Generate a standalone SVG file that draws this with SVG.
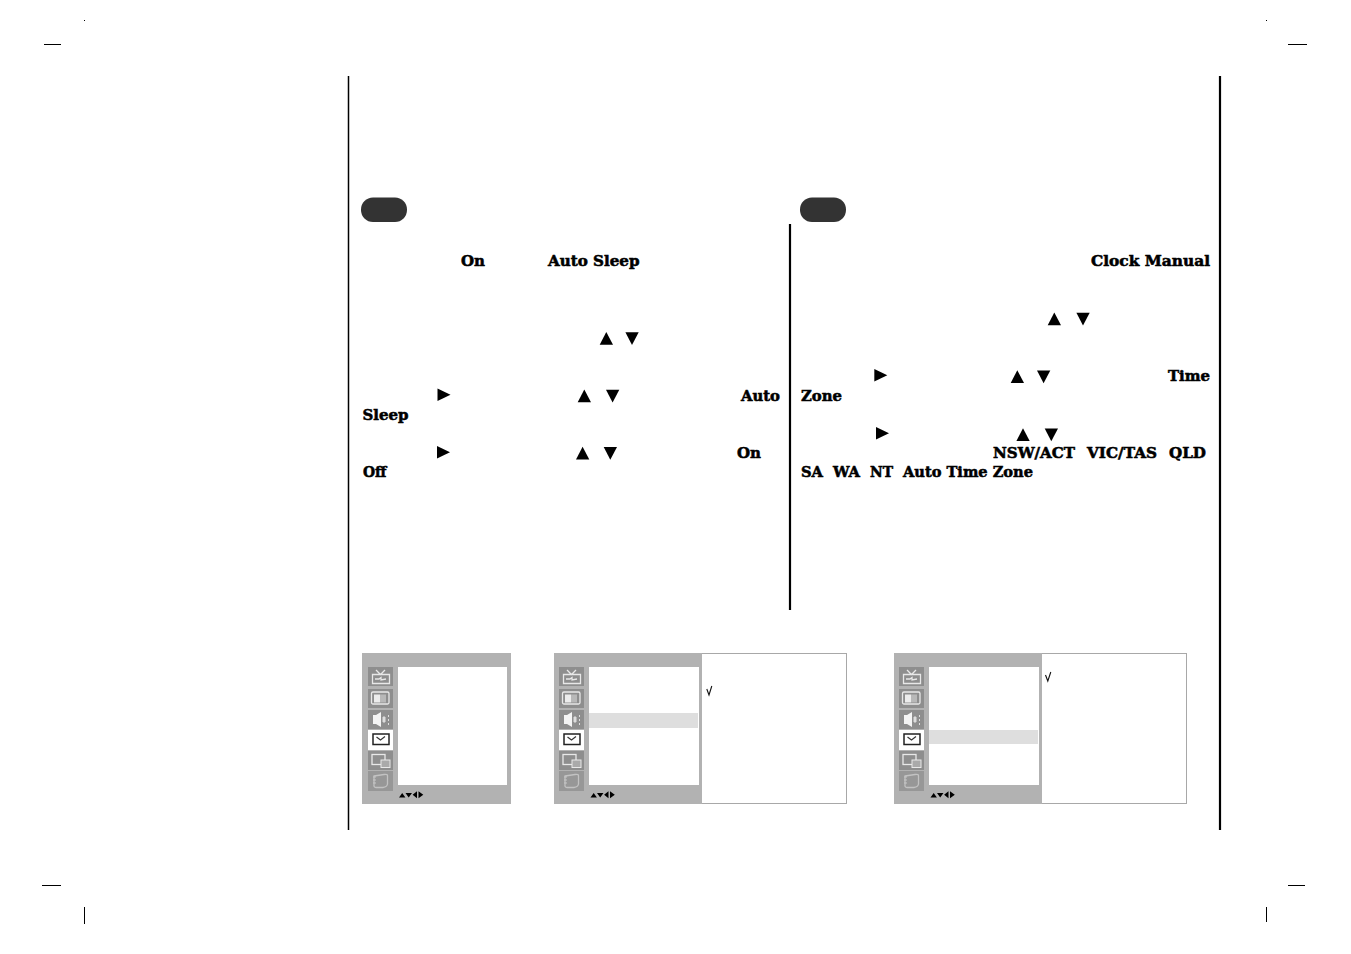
<svg xmlns="http://www.w3.org/2000/svg" width="1351" height="954" viewBox="0 0 1351 954">
<style>
.b{font-family:"DejaVu Serif","Liberation Serif",serif;font-weight:700;font-size:15px;fill:#000;stroke:#000;stroke-width:.55px}
.k{stroke:#000;fill:none}
.ck{stroke:#111;stroke-width:1.100;fill:none}
.g{fill:#b2b2b2}
.t{fill:#8e8e8e}
.w{fill:#fff}
.hl{fill:#dedede}
.ol{fill:none;stroke:#e8e8e8;stroke-width:1.300}
</style>
<defs>
<path id="u" d="M6.300 -.5L13 12.300H-.3Z"/>
<path id="d" d="M-.3 -.3H13L6.300 12.500Z"/>
<path id="r" d="M0 -.3L13 6L0 12.300Z"/>
<g id="rail">
<rect class="t" x="0" y="0" width="25" height="19"/>
<rect class="t" x="0" y="22" width="25" height="19"/>
<rect class="t" x="0" y="43" width="25" height="19"/>
<rect class="w" x="0" y="63" width="25" height="20"/>
<rect class="t" x="0" y="84" width="25" height="19"/>
<rect fill="#979797" x="0" y="104" width="25" height="20"/>
<path class="ol" d="M4.500 7.500H21.500V16.500H4.500ZM8 3L12.500 7.500L17 3M7 12H11L13 10.500V13L18 12"/>
<rect class="ol" x="3.500" y="25" width="17.500" height="12" rx="1.500"/>
<rect fill="#ececec" x="6" y="27.500" width="6" height="8"/>
<rect fill="#b8b8b8" x="12" y="27.500" width="6" height="8"/>
<path fill="#f4f4f4" d="M5 48H8L13 45V60L8 57H5Z"/>
<path d="M15 50H17V55H15ZM20.500 48V50M20.500 52V54M20.500 56V58" fill="#ddd" stroke="#ddd"/>
<rect x="5" y="67" width="16" height="10.500" fill="#fff" stroke="#222" stroke-width="1.500"/>
<path d="M8.500 70L12.500 73L17 69.500" fill="none" stroke="#333" stroke-width="1.200"/>
<rect class="ol" x="4" y="87.500" width="13" height="10"/>
<rect x="13" y="93" width="9" height="7.500" fill="#aaa" stroke="#e8e8e8"/>
<path d="M6 109L16 107.500Q20 107 19.500 109V117Q19 120 15 120.500H8Q5.500 120 6 118Z" fill="none" stroke="#c2c2c2" stroke-width="1.300"/>
<path d="M5 110H8M5 113H8M5 116H8" stroke="#c6c6c6" stroke-width="1"/>
</g>
<g id="keys">
<path d="M0 6L3.200 1.500L6.400 6ZM6.500 1.500H13L9.700 6ZM18 -.3V6.800L13.600 3.250ZM19.500 -.3V6.800L24.300 3.250Z" fill="#000"/>
</g>
</defs>

<g id="page-rules">
<path class="k" stroke-width="1.500" d="M348.500 76V830"/>
<path class="k" stroke-width="2.200" d="M1220 76V830"/>
<path class="k" stroke-width="2.200" d="M790 224V610"/>
</g>

<g id="crop-marks">
<path class="k" d="M44 44.500H61M1288 44.500H1307M42 885.500H61M1288 885.500H1305M84.500 907V924M1266.500 907V922"/>
<rect x="84" y="20" width="1" height="1" fill="#000"/>
<rect x="1266" y="20" width="1" height="1" fill="#000"/>
</g>

<g id="step-pill-left"><rect x="361" y="197.500" width="46" height="24.500" rx="12" fill="#333"/></g>
<g id="step-pill-right"><rect x="800" y="197.500" width="46" height="24.500" rx="12" fill="#333"/></g>

<g id="text-left">
<text class="b" x="461" y="266" textLength="24" lengthAdjust="spacingAndGlyphs">On</text>
<text class="b" x="548" y="266" textLength="91.500" lengthAdjust="spacingAndGlyphs">Auto Sleep</text>
<use href="#u" x="600" y="332.500"/><use href="#d" x="625.700" y="332.500"/>
<use href="#r" x="437.500" y="388.700"/><use href="#u" x="578" y="390"/><use href="#d" x="606.300" y="390"/>
<text class="b" x="741" y="401" textLength="39" lengthAdjust="spacingAndGlyphs">Auto</text>
<text class="b" x="362.500" y="420" textLength="46" lengthAdjust="spacingAndGlyphs">Sleep</text>
<use href="#r" x="437" y="446.300"/><use href="#u" x="576.300" y="447.300"/><use href="#d" x="604" y="447.300"/>
<text class="b" x="737" y="458" textLength="24" lengthAdjust="spacingAndGlyphs">On</text>
<text class="b" x="363" y="477" textLength="23.500" lengthAdjust="spacingAndGlyphs">Off</text>
</g>

<g id="text-right">
<text class="b" x="1091" y="266" textLength="119" lengthAdjust="spacingAndGlyphs">Clock Manual</text>
<use href="#u" x="1048" y="313"/><use href="#d" x="1076.700" y="313"/>
<use href="#r" x="874.300" y="369.300"/><use href="#u" x="1011" y="370.700"/><use href="#d" x="1037.300" y="370.700"/>
<text class="b" x="1168" y="381" textLength="42" lengthAdjust="spacingAndGlyphs">Time</text>
<text class="b" x="801" y="401" textLength="41" lengthAdjust="spacingAndGlyphs">Zone</text>
<use href="#r" x="876" y="427.300"/><use href="#u" x="1016.700" y="428.700"/><use href="#d" x="1045" y="428.700"/>
<text class="b" x="993" y="458" textLength="82" lengthAdjust="spacingAndGlyphs">NSW/ACT</text>
<text class="b" x="1087" y="458" textLength="70" lengthAdjust="spacingAndGlyphs">VIC/TAS</text>
<text class="b" x="1169" y="458" textLength="37" lengthAdjust="spacingAndGlyphs">QLD</text>
<text class="b" x="801" y="477" textLength="22" lengthAdjust="spacingAndGlyphs">SA</text>
<text class="b" x="833" y="477" textLength="27" lengthAdjust="spacingAndGlyphs">WA</text>
<text class="b" x="870" y="477" textLength="23" lengthAdjust="spacingAndGlyphs">NT</text>
<text class="b" x="903" y="477" textLength="130" lengthAdjust="spacingAndGlyphs">Auto Time Zone</text>
</g>

<g id="menu-1">
<rect class="g" x="362" y="653" width="149" height="151"/>
<rect class="w" x="398" y="667" width="109" height="118"/>
<use href="#rail" x="368" y="667"/>
<use href="#keys" x="399" y="791.500"/>
</g>

<g id="menu-2">
<rect class="w" x="554.500" y="653.500" width="292" height="150" stroke="#a8a8a8"/>
<rect class="g" x="554" y="653" width="148" height="151"/>
<rect class="w" x="589" y="667" width="110" height="118"/>
<rect class="hl" x="589" y="713" width="109" height="15"/>
<use href="#rail" x="559" y="667"/>
<use href="#keys" x="590.500" y="791.500"/>
<path class="ck" d="M706.800 689L709 695L711.800 686"/>
</g>

<g id="menu-3">
<rect class="w" x="894.500" y="653.500" width="292" height="150" stroke="#a8a8a8"/>
<rect class="g" x="894" y="653" width="148" height="151"/>
<rect class="w" x="929" y="667" width="110" height="118"/>
<rect class="hl" x="929" y="730" width="109" height="14"/>
<use href="#rail" x="899" y="667"/>
<use href="#keys" x="930.500" y="791.500"/>
<path class="ck" d="M1045.500 675L1047.800 681L1050.800 672"/>
</g>
</svg>
